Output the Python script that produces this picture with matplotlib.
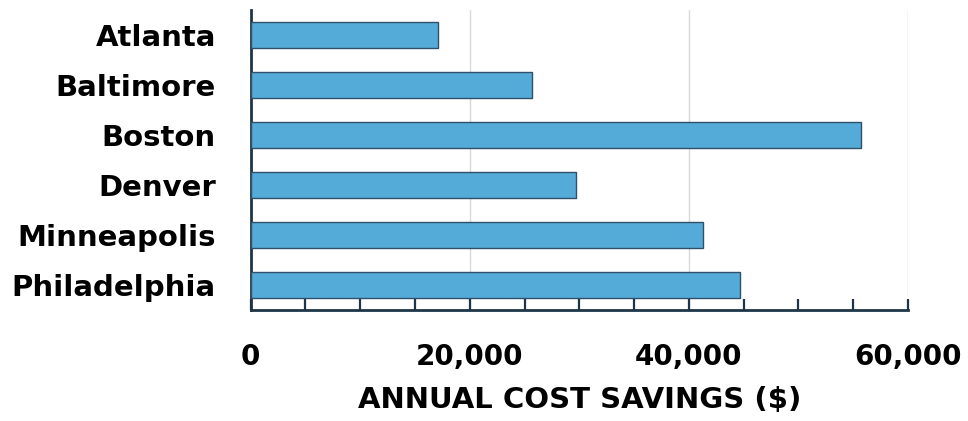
import matplotlib
matplotlib.use("Agg")
import matplotlib.pyplot as plt
from matplotlib.ticker import FuncFormatter, MultipleLocator

cities = ["Atlanta", "Baltimore", "Boston", "Denver", "Minneapolis", "Philadelphia"]
savings = [17100, 25700, 55700, 29700, 41300, 44700]
x_ticks = [0, 20000, 40000, 60000]

plt.rcParams["font.family"] = ["DejaVu Sans"]

fig = plt.figure(figsize=(9.68, 4.21), dpi=100)
ax = fig.add_axes([0.259, 0.264, 0.679, 0.712])

bar_color = "#55ABD8"
edge_color = "#2E5068"
axis_color = "#1E3547"

ypos = list(range(len(cities)))
ax.barh(ypos, savings, height=0.52, color=bar_color, edgecolor=edge_color,
        linewidth=1.0, zorder=3)
ax.set_ylim(len(cities) - 0.5, -0.5)
ax.set_xlim(0, 60000)

ax.set_yticks(ypos)
ax.set_yticklabels(cities, fontsize=21, fontweight="bold")
ax.tick_params(axis="y", length=0, pad=25)

ax.set_xticks(x_ticks)
ax.xaxis.set_minor_locator(MultipleLocator(5000))
ax.xaxis.set_major_formatter(FuncFormatter(lambda v, p: f"{int(v):,}"))
ax.tick_params(axis="x", which="both", direction="in", length=8, width=1.6,
               color=axis_color, labelsize=20, pad=24)
for lbl in ax.get_xticklabels():
    lbl.set_fontweight("bold")

ax.grid(axis="x", which="major", color="#D9D9D9", linewidth=1.0, zorder=0)

for side in ("top", "right"):
    ax.spines[side].set_visible(False)
for side in ("left", "bottom"):
    ax.spines[side].set_color(axis_color)
    ax.spines[side].set_linewidth(2.0)

ax.set_xlabel("ANNUAL COST SAVINGS ($)", fontsize=21, fontweight="bold", labelpad=11)

fig.savefig("out.png", dpi=100)
